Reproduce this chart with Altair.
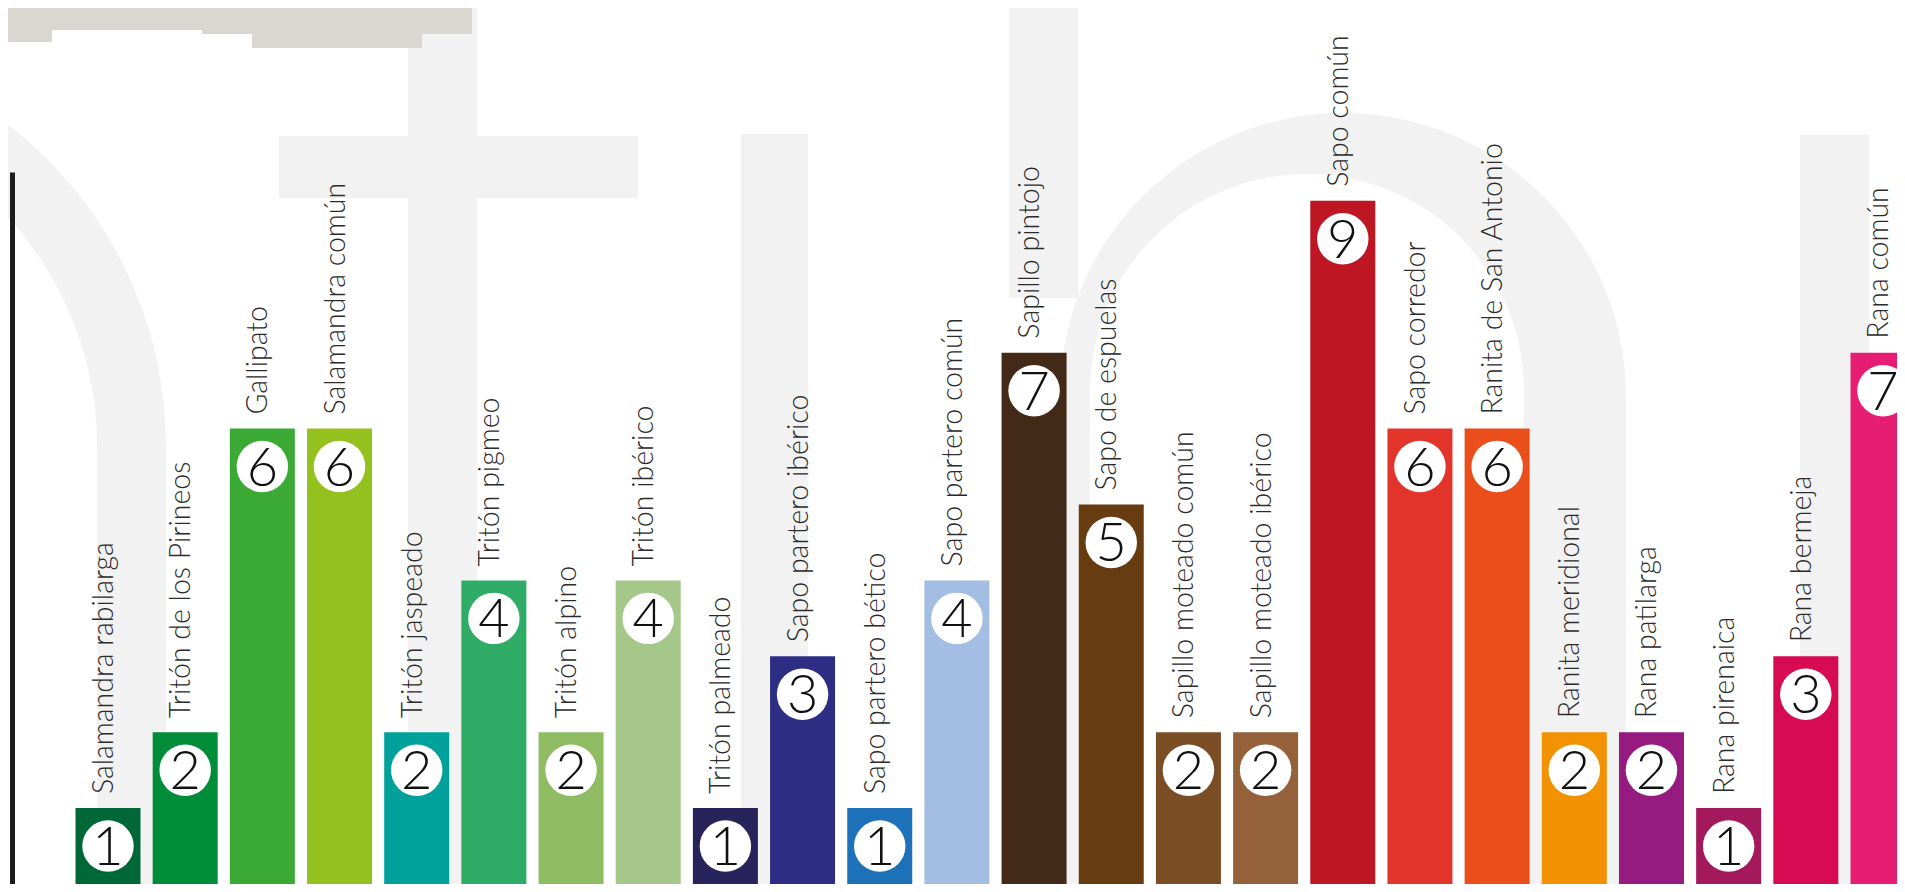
import altair as alt
import pandas as pd

# ---- data ----
species = [
    "Salamandra rabilarga", "Tritón de los Pirineos", "Gallipato", "Salamandra común",
    "Tritón jaspeado", "Tritón pigmeo", "Tritón alpino", "Tritón ibérico",
    "Tritón palmeado", "Sapo partero ibérico", "Sapo partero bético", "Sapo partero común",
    "Sapillo pintojo", "Sapo de espuelas", "Sapillo moteado común", "Sapillo moteado ibérico",
    "Sapo común", "Sapo corredor", "Ranita de San Antonio", "Ranita meridional",
    "Rana patilarga", "Rana pirenaica", "Rana bermeja", "Rana común",
]
values = [1, 2, 6, 6, 2, 4, 2, 4, 1, 3, 1, 4, 7, 5, 2, 2, 9, 6, 6, 2, 2, 1, 3, 7]
colors = [
    "#006837", "#008c39", "#3aaa35", "#95c11f",
    "#00a19a", "#2fac66", "#8fbb62", "#a5c78a",
    "#29235c", "#2d2e83", "#1d71b8", "#a4bde2",
    "#432918", "#683c11", "#7b4d25", "#95613a",
    "#be1622", "#e3342c", "#e94e1b", "#f39200",
    "#951b81", "#a3195b", "#d60b51", "#e61d73",
]

df = pd.DataFrame({"species": species, "value": values})

FONT = "Lato"

# ---- scales ----
x_enc = alt.X("species:N", sort=None, axis=None,
              scale=alt.Scale(domain=species, range=[0, 1967],
                              paddingInner=0.1577, paddingOuter=0.8229))
y_enc = alt.Y("value:Q",
              scale=alt.Scale(domain=[0, 9.38], range=[876, 164], nice=False, zero=True),
              axis=alt.Axis(domain=True, domainColor="#1d1d1b", domainWidth=5,
                            ticks=False, labels=False, grid=False, title=None, zindex=1))

base = alt.Chart(df).encode(x=x_enc, y=y_enc)

bars = base.mark_bar(clip=True).encode(
    color=alt.Color("species:N", sort=None, legend=None,
                    scale=alt.Scale(domain=species, range=colors))
)
circles = base.mark_point(filled=True, shape="circle", size=2650, color="white",
                          opacity=1, yOffset=38, strokeWidth=0)
numbers = base.mark_text(font=FONT, fontSize=54, fontWeight=300, color="#111111",
                         baseline="alphabetic", align="center", dy=57).encode(text="value:Q")
labels = base.mark_text(font=FONT, fontSize=28.5, fontWeight=300, color="#2b2b2b",
                        angle=270, align="left", baseline="alphabetic",
                        dx=14, dy=5).encode(text="species:N")

# ---- faint background letterforms (decoration) ----
one = alt.Data(values=[{"k": 1}])
GREY = "#f2f2f2"
PAPER = "#dad6d1"


def rect(x1, x2, y1, y2, color=GREY):
    return alt.Chart(one).mark_rect(color=color).encode(
        x=alt.value(x1), x2=alt.value(x2), y=alt.value(y1), y2=alt.value(y2))


def arc(cx, cy, ro, ri, t1, t2, color=GREY):
    return alt.Chart(one).mark_arc(color=color).encode(
        x=alt.value(cx), y=alt.value(cy), radius=alt.value(ro), radius2=alt.value(ri),
        theta=alt.value(t1), theta2=alt.value(t2))


deco = [
    # left arch
    arc(-252, 438, 406, 337, 0, 1.5708),
    rect(85, 154, 438, 884),
    # t
    rect(396, 465, -8, 884),
    rect(267, 626, 128, 190),
    # l
    rect(729, 796, 126, 884),
    rect(997, 1066, -8, 290),
    # big bowl
    arc(1331, 388, 283, 0, 4.7124, 7.854),
    rect(1048, 1614, 388, 884),
    arc(1295, 383, 217, 0, 4.7124, 7.854, "white"),
    rect(1078, 1512, 383, 884, "white"),
    # right stem
    rect(1788, 1857, 127, 884),
    # paper strip
    rect(-12, 40, -8, 34, PAPER),
    rect(40, 190, -8, 22, PAPER),
    rect(190, 240, -8, 26, PAPER),
    rect(240, 410, -8, 40, PAPER),
    rect(410, 460, -8, 26, PAPER),
]

chart = alt.layer(*deco, bars, circles, numbers, labels).properties(
    width=1885, height=876,
    background="white",
    autosize=alt.AutoSizeParams(type="none"),
    padding={"left": 4, "top": 0, "right": 0, "bottom": 0},
).configure_view(strokeWidth=0)

chart.save("out.html", embed_options={"renderer": "svg", "actions": False})
